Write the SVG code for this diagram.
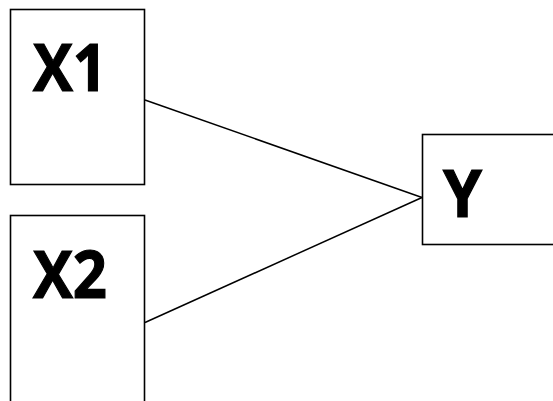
<svg xmlns="http://www.w3.org/2000/svg" width="553" height="401" viewBox="0 0 553 401">
<style>
.box{fill:#fff;stroke:#000;stroke-width:1.6}
.lbl{font-family:"Open Sans","Liberation Sans",sans-serif;font-weight:bold;font-size:67px;fill:#000;stroke:#000;stroke-width:1.2}
.con{stroke:#000;stroke-width:1.5;fill:none}
</style>
<rect width="553" height="401" fill="#fff"/>
<g id="connectors">
<line class="con" x1="145" y1="100" x2="422" y2="197.5"/>
<line class="con" x1="145" y1="322.5" x2="422" y2="197.5"/>
</g>
<g id="X1">
<rect class="box" x="10.5" y="9.5" width="134" height="175"/>
<text class="lbl" x="33" y="91" textLength="74" lengthAdjust="spacingAndGlyphs">X1</text>
</g>
<g id="X2">
<rect class="box" x="10.5" y="215.5" width="134" height="200"/>
<text class="lbl" x="33" y="298" textLength="74" lengthAdjust="spacingAndGlyphs">X2</text>
</g>
<g id="Y">
<rect class="box" x="422.5" y="134.5" width="140" height="110"/>
<text class="lbl" x="443" y="217" textLength="39" lengthAdjust="spacingAndGlyphs">Y</text>
</g>
</svg>
